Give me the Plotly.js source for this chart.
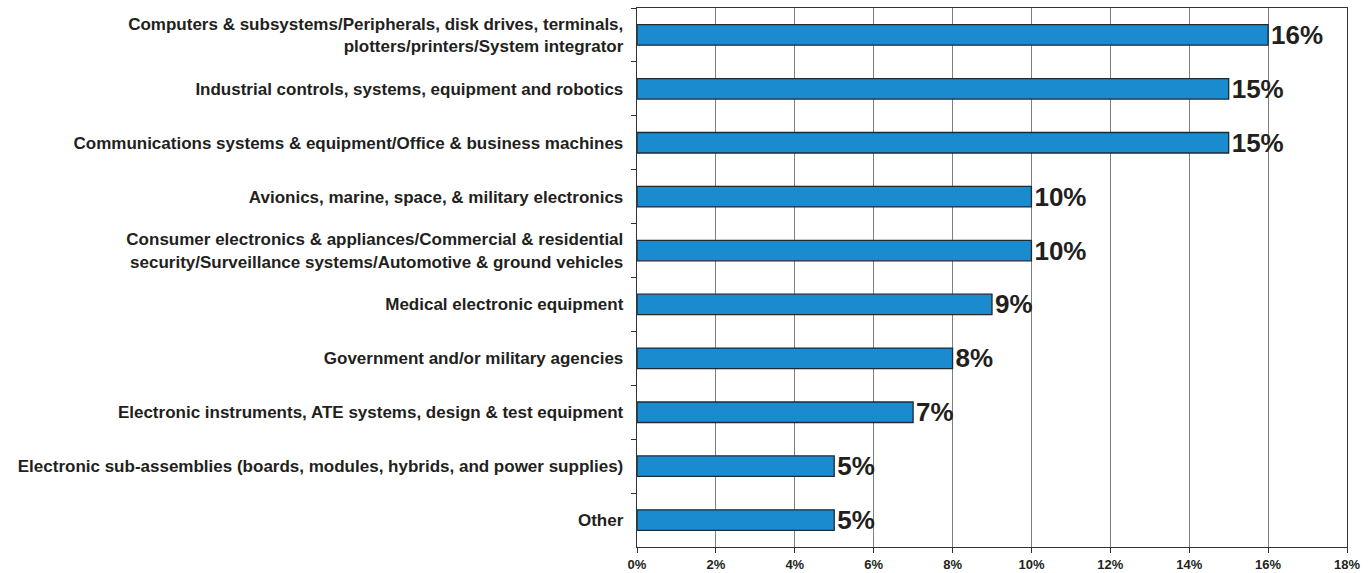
<!DOCTYPE html>
<html>
<head>
<meta charset="utf-8">
<script src="https://cdn.plot.ly/plotly-3.0.1.min.js"></script>
<style>html,body{margin:0;padding:0;background:#fff;}#chart{width:1372px;height:573px;}</style>
</head>
<body>
<div id="chart"></div>
<script>
const categories = [
  "Computers & subsystems/Peripherals, disk drives, terminals,<br>plotters/printers/System integrator",
  "Industrial controls, systems, equipment and robotics",
  "Communications systems & equipment/Office & business machines",
  "Avionics, marine, space, & military electronics",
  "Consumer electronics & appliances/Commercial & residential<br>security/Surveillance systems/Automotive & ground vehicles",
  "Medical electronic equipment",
  "Government and/or military agencies",
  "Electronic instruments, ATE systems, design & test equipment",
  "Electronic sub-assemblies (boards, modules, hybrids, and power supplies)",
  "Other"
];
const values = [16, 15, 15, 10, 10, 9, 8, 7, 5, 5];
const labels = values.map(v => v + "%");
const xTickVals = [0, 2, 4, 6, 8, 10, 12, 14, 16, 18];
const xTickText = xTickVals.map(v => v + "%");

const trace = {
  type: "bar",
  orientation: "h",
  y: categories,
  x: values,
  text: labels,
  textposition: "outside",
  cliponaxis: false,
  constraintext: "none",
  textfont: {family: "Liberation Sans, Arial, sans-serif", size: 26, color: "#231f20", weight: "bold"},
  marker: {color: "#1b8bd0", line: {color: "#1f2a33", width: 1.3}},
  width: 0.38,
  hoverinfo: "none"
};

const layout = {
  width: 1372, height: 573,
  margin: {l: 637, r: 25, t: 8, b: 26},
  paper_bgcolor: "#ffffff",
  plot_bgcolor: "#ffffff",
  showlegend: false,
  font: {family: "Liberation Sans, Arial, sans-serif", color: "#231f20"},
  xaxis: {
    range: [0, 18],
    tickvals: xTickVals,
    ticktext: xTickText,
    tickfont: {size: 13, weight: "bold", color: "#231f20"},
    showgrid: true, gridcolor: "#7f7f7f", gridwidth: 1,
    showline: true, linecolor: "#333333", linewidth: 1.3, mirror: true,
    ticks: "outside", ticklen: 5, tickcolor: "#333333",
    zeroline: false, fixedrange: true
  },
  yaxis: {
    autorange: "reversed",
    type: "category",
    tickfont: {size: 17, weight: "bold", color: "#231f20"},
    showgrid: false,
    showline: true, linecolor: "#333333", linewidth: 1.3, mirror: true,
    ticks: "outside", ticklen: 5, tickcolor: "#333333",
    tickson: "boundaries",
    ticklabelstandoff: 9,
    fixedrange: true
  }
};

Plotly.newPlot("chart", [trace], layout, {displayModeBar: false, staticPlot: true});
</script>
</body>
</html>
